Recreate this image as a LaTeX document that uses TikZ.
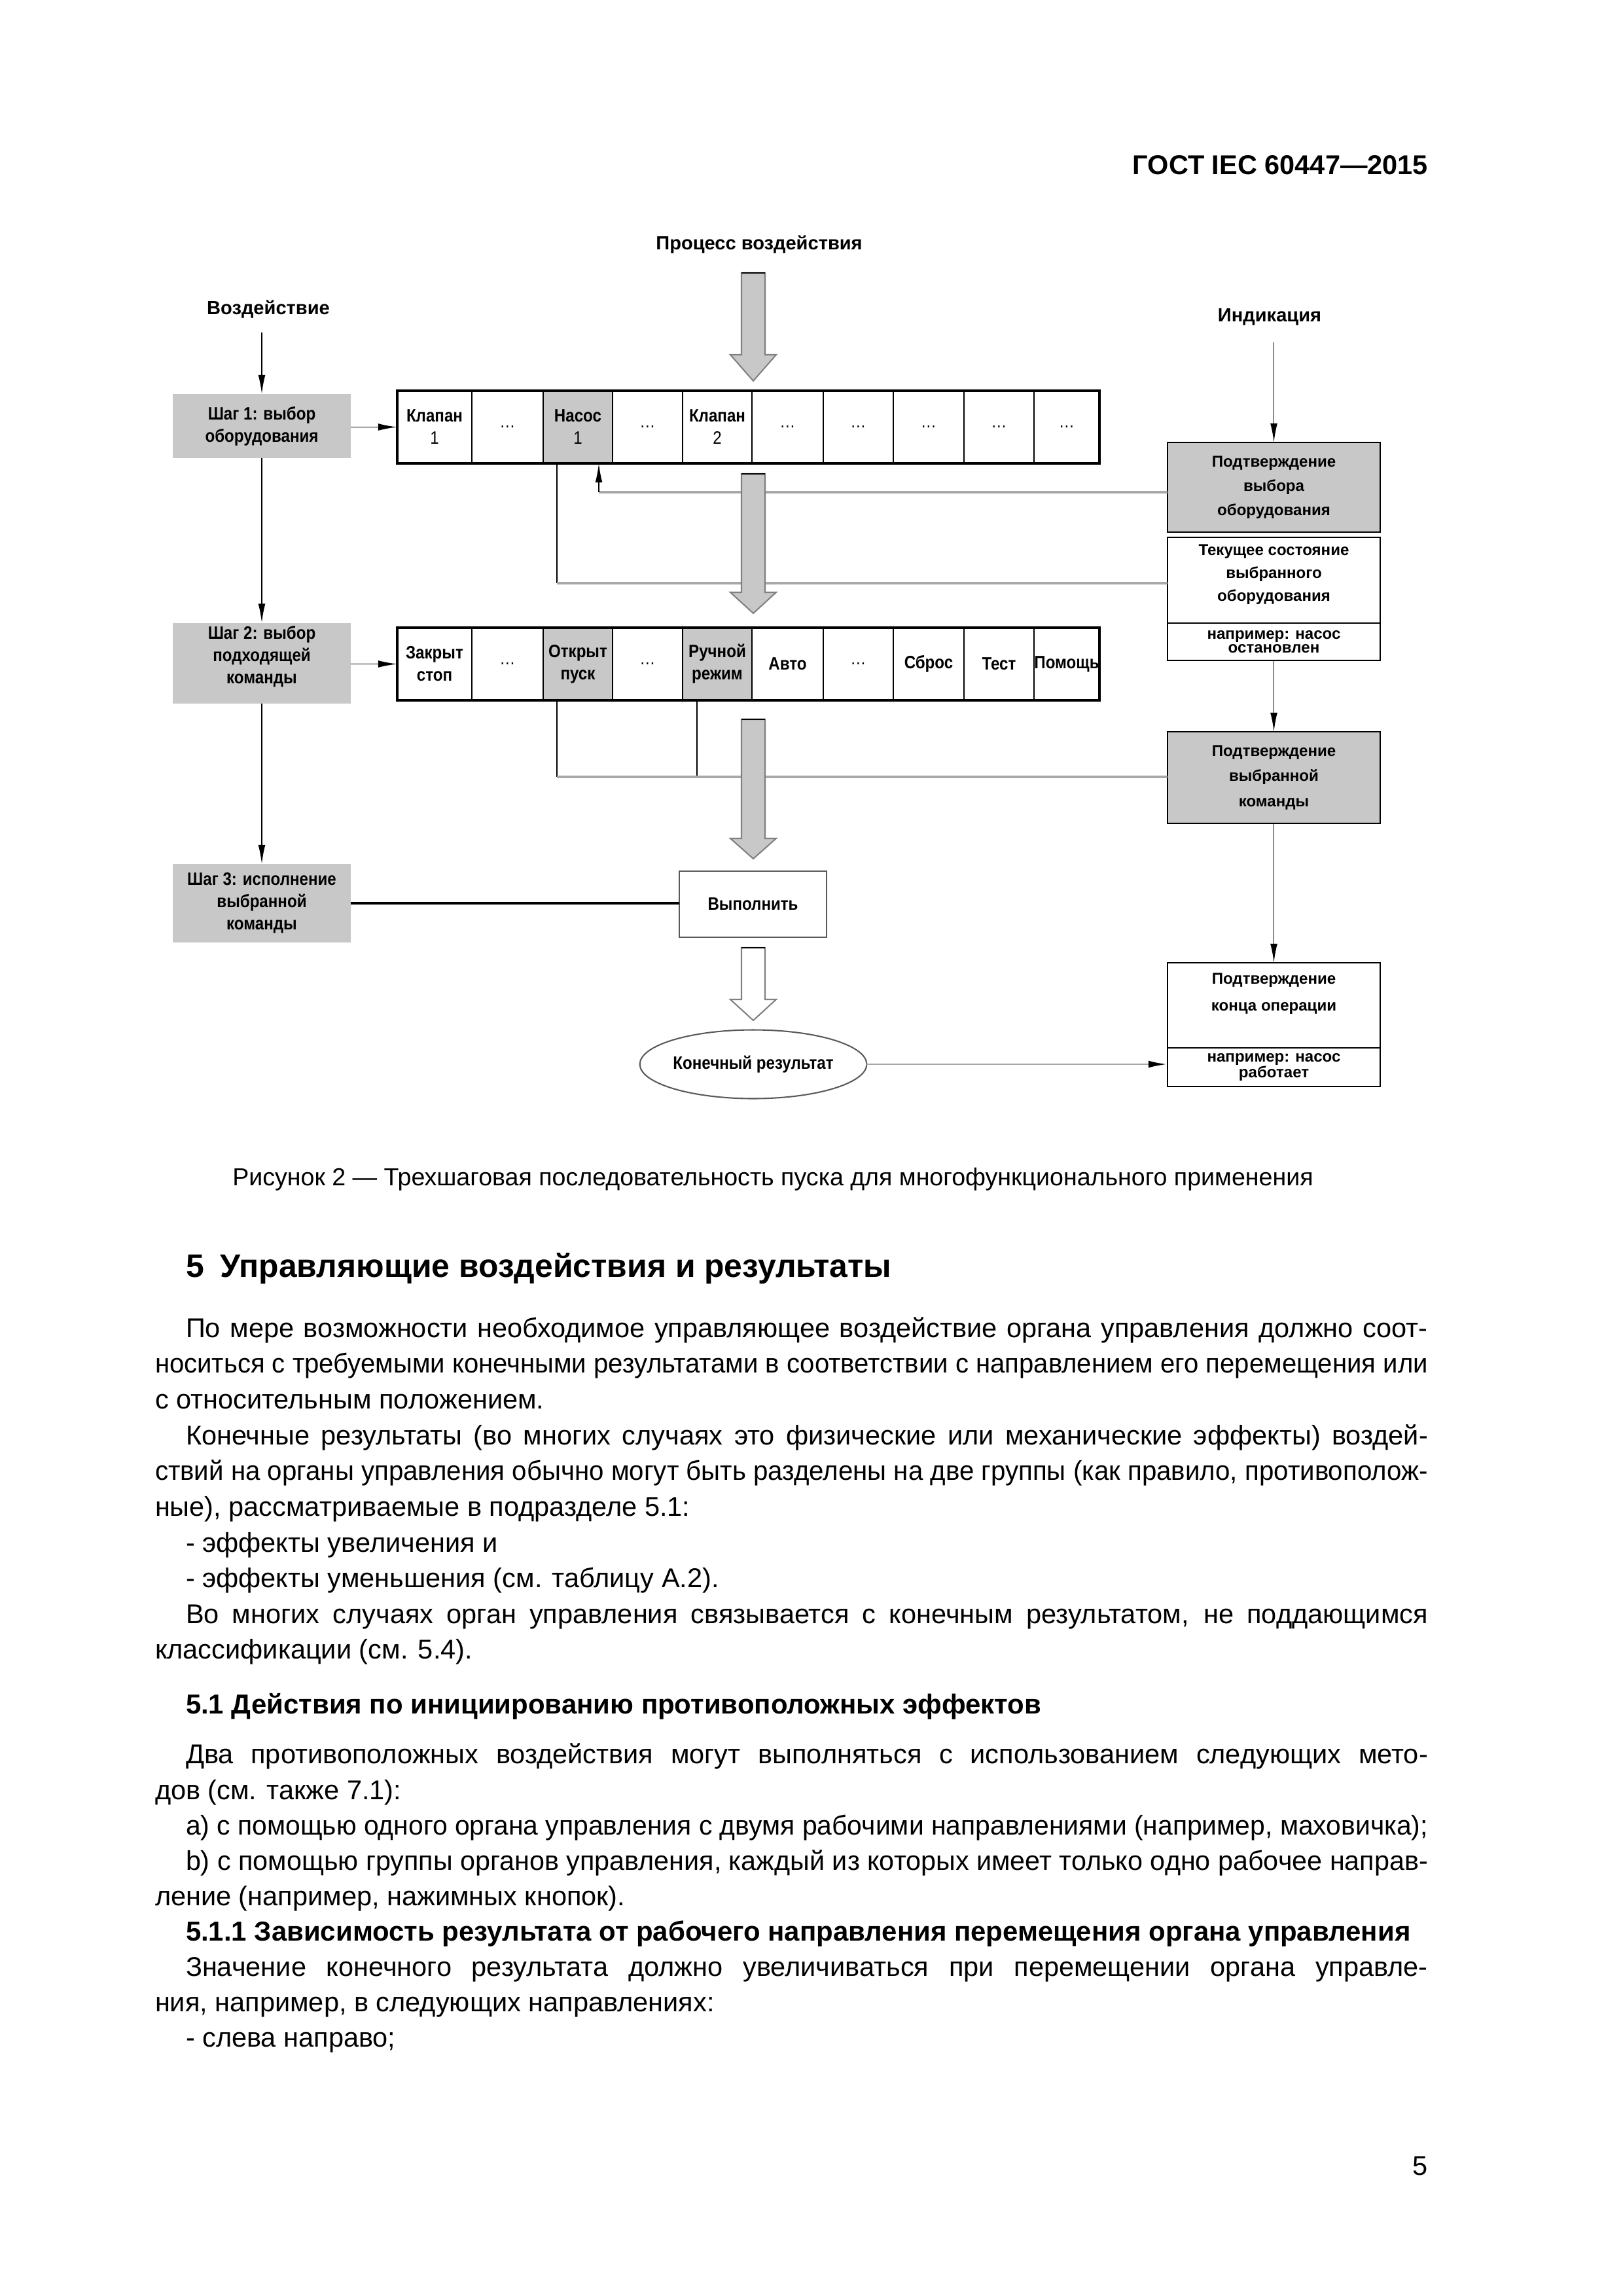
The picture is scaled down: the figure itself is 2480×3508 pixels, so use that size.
\documentclass[tikz,border=0pt]{standalone}
\usepackage{fontspec}
\usepackage{graphicx}
\setmainfont{Liberation Sans}
\newfontfamily\dgfont{Liberation Sans}[FakeStretch=0.88]
\usetikzlibrary{arrows.meta,shapes.geometric}
\definecolor{boxgray}{HTML}{C8C8C8}
\definecolor{linegray}{HTML}{A8A8A8}
\definecolor{edgegray}{HTML}{808080}
\newsavebox\lnbox
\newcommand{\justline}[2]{%
  \sbox\lnbox{#2}%
  \ifdim\wd\lnbox>#1\relax
    \resizebox{#1}{\height}{\usebox\lnbox}%
  \else
    \makebox[#1][s]{#2}%
  \fi}
\newcommand{\fullline}[1]{\justline{468.5pt}{#1}}
\newcommand{\indline}[1]{\justline{457.2pt}{#1}}
\newcommand{\fatarrow}[5]{%
  \filldraw[fill=#5, draw=edgegray, line width=0.5pt]
    (#1-18,#2) -- (#1+18,#2) -- (#1+18,#3) -- (#1+35,#3) -- (#1,#4)
    -- (#1-35,#3) -- (#1-18,#3) -- cycle;
  \draw[line width=0.7pt] (#1-18,#2) -- (#1+18,#2);}
\begin{document}
\begin{tikzpicture}[x=0.0846774mm, y=-0.0846774mm,
  every node/.style={inner sep=0pt, outer sep=0pt},
  sz/.style 2 args={minimum width=#1*0.24088pt, minimum height=#2*0.24088pt},
  dg/.style={font=\dgfont\bfseries\fontsize{6.6}{8.2}\selectfont, align=center},
  stepbox/.style={dg, fill=boxgray, sz={272}{#1}},
  cell/.style={draw, line width=0.45pt, dg, sz={#1}{111}},
  gcell/.style={cell=#1, fill=boxgray},
  rbox/.style={draw, line width=0.7pt, sz={325}{#1}},
  rtxt/.style={font=\bfseries\fontsize{5.8}{#1}\selectfont, align=center},
  lbl/.style={font=\bfseries\fontsize{7}{8}\selectfont},
  arr/.style={-{Latex[length=7pt,width=2.6pt]}, line width=0.45pt},
  bline/.style={line width=0.45pt},
  gline/.style={draw=linegray, line width=0.9pt},
  garr/.style={draw=linegray, line width=0.7pt, -{Latex[length=7pt,width=2.6pt,color=black]}},
  body/.style={anchor=mid west, font=\fontsize{10}{12}\selectfont},
  bodyb/.style={anchor=mid west, font=\bfseries\fontsize{10.1}{12}\selectfont}
]
\fill[white] (0,0) rectangle (2480,3508);
\path[use as bounding box] (0,0) rectangle (2480,3508);

% header
\node[anchor=base east, font=\bfseries\fontsize{10}{12}\selectfont] (hdr) at (2182,266) {ГОСТ IEC 60447—2015};

% top labels
\node[lbl] (proc) at (1160,374) {Процесс воздействия};
\node[lbl] (vozd) at (410,473) {Воздействие};
\node[lbl] (ind) at (1940,484) {Индикация};

% step boxes
\node[stepbox=98] (step1) at (400,651) {Шаг 1: выбор\\оборудования};
\node[stepbox=123] (step2) at (400,1013) {};
\node[dg] (st2) at (400,1003) {Шаг 2: выбор\\подходящей\\команды};
\node[stepbox=120] (step3) at (400,1380) {Шаг 3: исполнение\\выбранной\\команды};

% row 1
\node[cell=114] (r1c1) at (664,652.5) {Клапан\\{\mdseries 1}};
\node[cell=109] (r1c2) at (775.5,652.5) {\mdseries …};
\node[gcell=106] (r1c3) at (883,652.5) {Насос\\{\mdseries 1}};
\node[cell=107] (r1c4) at (989.5,652.5) {\mdseries …};
\node[cell=106] (r1c5) at (1096,652.5) {Клапан\\{\mdseries 2}};
\node[cell=109] (r1c6) at (1203.5,652.5) {\mdseries …};
\node[cell=107] (r1c7) at (1311.5,652.5) {\mdseries …};
\node[cell=108] (r1c8) at (1419,652.5) {\mdseries …};
\node[cell=107] (r1c9) at (1526.5,652.5) {\mdseries …};
\node[cell=100] (r1c10) at (1630,652.5) {\mdseries …};
\draw[line width=1pt] (r1c1.north west) rectangle (r1c10.south east);

% row 2
\node[cell=114] (r2c1) at (664,1014.5) {Закрыт\\стоп};
\node[cell=109] (r2c2) at (775.5,1014.5) {\mdseries …};
\node[gcell=106] (r2c3) at (883,1014.5) {Открыт\\пуск};
\node[cell=107] (r2c4) at (989.5,1014.5) {\mdseries …};
\node[gcell=106] (r2c5) at (1096,1014.5) {Ручной\\режим};
\node[cell=109] (r2c6) at (1203.5,1014.5) {Авто};
\node[cell=107] (r2c7) at (1311.5,1014.5) {\mdseries …};
\node[cell=108] (r2c8) at (1419,1014.5) {Сброс};
\node[cell=107] (r2c9) at (1526.5,1014.5) {Тест};
\node[cell=100] (r2c10) at (1630,1014.5) {Помощь};
\draw[line width=1pt] (r2c1.north west) rectangle (r2c10.south east);

% execute and result
\node[draw=gray!70!black, line width=0.7pt, dg, sz={225}{101}] (vyp) at (1150.5,1381.5) {Выполнить};
\node[draw=gray!70!black, line width=0.5pt, ellipse, dg, sz={311}{105}] (res) at (1151,1626) {Конечный результат};

% right column
\node[rbox=137, fill=boxgray, rtxt=8.9pt] (box1) at (1946.5,744.5) {Подтверждение\\выбора\\оборудования};
\node[rbox=131] (box2a) at (1946.5,886.5) {};
\node[rtxt=8.4pt] (t2a) at (1946.5,878) {Текущее состояние\\выбранного\\оборудования};
\node[rbox=57, rtxt=5.2pt] (box2b) at (1946.5,980.5) {например: насос\\остановлен};
\node[rbox=140, fill=boxgray, rtxt=9.2pt] (box3) at (1946.5,1188) {Подтверждение\\выбранной\\команды};
\node[rbox=130] (box4a) at (1946.5,1536) {};
\node[rtxt=10pt] (t4a) at (1946.5,1518) {Подтверждение\\конца операции};
\node[rbox=59, rtxt=6pt] (box4b) at (1946.5,1630.5) {например: насос\\работает};

% connectors left column
\coordinate (v0) at (400,508);
\draw[arr] (v0) -- (step1.north);
\draw[arr] (step1.south) -- (step2.north);
\draw[arr] (step2.south) -- (step3.north);
\draw[arr] (step1.east |- r1c1.west) -- (r1c1.west);
\draw[arr] (step2.east |- r2c1.west) -- (r2c1.west);
\draw[line width=0.8pt] (step3.east) -- (step3.east -| vyp.west);

% connectors right column
\coordinate (i0) at (1946.5,523);
\draw[arr] (i0) -- (box1.north);
\draw[arr] (box2b.south) -- (box3.north);
\draw[arr] (box3.south) -- (box4a.north);

% feedback lines
\coordinate (k1) at (915,752);
\draw[gline] (box1.west |- k1) -- (k1);
\draw[arr] (k1) -- (k1 |- r1c3.south);
\coordinate (k2) at (851,891);
\draw[bline] (k2 |- r1c3.south) -- (k2);
\draw[gline] (k2) -- (box2a.west |- k2);
\coordinate (k3) at (851,1187);
\coordinate (k4) at (1065,1187);
\draw[bline] (k3 |- r2c3.south) -- (k3);
\draw[bline] (k4 |- r2c5.south) -- (k4);
\draw[gline] (k3) -- (box3.west |- k3);
\draw[garr] (res.east) -- (res.east -| box4b.west);

% process arrows
\fatarrow{1151}{417}{542}{582}{boxgray}
\fatarrow{1151}{724}{905}{937}{boxgray}
\fatarrow{1151}{1099}{1281}{1312}{boxgray}
\fatarrow{1151}{1448}{1527}{1559}{white}

% caption
\node[font=\fontsize{9.05}{11}\selectfont] (cap) at (1181,1802) {Рисунок 2 — Трехшаговая последовательность пуска для многофункционального применения};

% section heading
\node[anchor=mid west, font=\bfseries\fontsize{12}{14}\selectfont] (h5) at (284,1941) {5\hspace{0.5em}Управляющие воздействия и результаты};

% body text
\node[body] (l1) at (284,2033) {\indline{По мере возможности необходимое управляющее воздействие органа управления должно соот-}};
\node[body] (l2) at (237,2087) {\fullline{носиться с требуемыми конечными результатами в соответствии с направлением его перемещения или}};
\node[body] (l3) at (237,2142) {с относительным положением.};
\node[body] (l4) at (284,2197) {\indline{Конечные результаты (во многих случаях это физические или механические эффекты) воздей-}};
\node[body] (l5) at (237,2251) {\fullline{ствий на органы управления обычно могут быть разделены на две группы (как правило, противополож-}};
\node[body] (l6) at (237,2306) {ные), рассматриваемые в подразделе 5.1:};
\node[body] (l7) at (284,2361) {- эффекты увеличения и};
\node[body] (l8) at (284,2415) {- эффекты уменьшения (см. таблицу А.2).};
\node[body] (l9) at (284,2470) {\indline{Во многих случаях орган управления связывается с конечным результатом, не поддающимся}};
\node[body] (l10) at (237,2524) {классификации (см. 5.4).};
\node[bodyb] (h51) at (284,2607) {5.1 Действия по инициированию противоположных эффектов};
\node[body] (l12) at (284,2684) {\indline{Два противоположных воздействия могут выполняться с использованием следующих мето-}};
\node[body] (l13) at (237,2738) {дов (см. также 7.1):};
\node[body] (l14) at (284,2792) {\indline{а) с помощью одного органа управления с двумя рабочими направлениями (например, маховичка);}};
\node[body] (l15) at (284,2846) {\indline{b) с помощью группы органов управления, каждый из которых имеет только одно рабочее направ-}};
\node[body] (l16) at (237,2900) {ление (например, нажимных кнопок).};
\node[bodyb] (h511) at (284,2954) {5.1.1 Зависимость результата от рабочего направления перемещения органа управления};
\node[body] (l18) at (284,3008) {\indline{Значение конечного результата должно увеличиваться при перемещении органа управле-}};
\node[body] (l19) at (237,3062) {ния, например, в следующих направлениях:};
\node[body] (l20) at (284,3116) {- слева направо;};

% page number
\node[anchor=mid east, font=\fontsize{10}{12}\selectfont] (pg) at (2182,3312) {5};
\end{tikzpicture}
\end{document}
